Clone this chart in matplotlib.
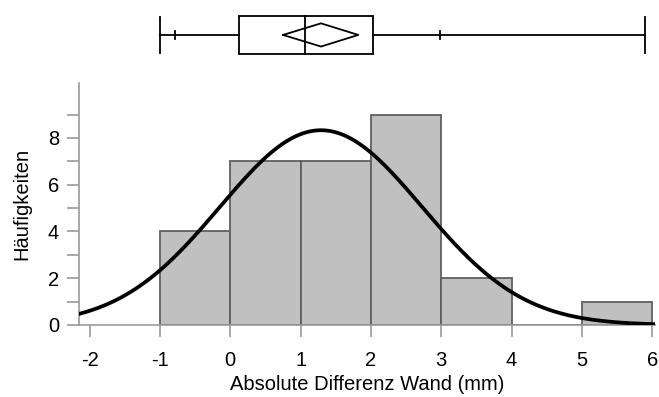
import numpy as np
import matplotlib.pyplot as plt

plt.rcParams['font.family'] = ['Liberation Sans', 'DejaVu Sans']
plt.rcParams['axes.unicode_minus'] = False

# Histogramm
bin_edges = [-1, 0, 1, 2, 3, 4, 5, 6]
counts = [4, 7, 7, 9, 2, 0, 1]
n_total = 30

# Normalverteilung
mean = 1.29
sd = 1.437

# Boxplot-Werte
q_min, q10, q1, median, q3, q90, q_max = -1.0, -0.78, 0.12, 1.06, 2.03, 2.98, 5.9
ci_low, ci_high = 0.75, 1.82

x_min, x_max = -2.15, 6.04
gray = "#9a9a9a"
fs = 14.5

fig = plt.figure(figsize=(6.59, 3.97), dpi=100)
ax = fig.add_axes([0.120, 0.1814, 0.874, 0.6096])
ax_box = fig.add_axes([0.120, 0.849, 0.874, 0.126])

# Balken
widths = np.diff(bin_edges)
ax.bar(bin_edges[:-1], counts, width=widths, align="edge",
       color="#c0c0c0", edgecolor="#606060", linewidth=1.3, zorder=2)

# Kurve
xs = np.linspace(x_min, x_max, 400)
ys = n_total * 1.0 / (sd * np.sqrt(2 * np.pi)) * np.exp(-(xs - mean) ** 2 / (2 * sd ** 2))
ax.plot(xs, ys, color="black", linewidth=2.7, zorder=3)

ax.set_xlim(x_min, x_max)
ax.set_ylim(0, 10.35)
ax.set_xticks(range(-2, 7))
ax.set_yticks([0, 2, 4, 6, 8])
ax.set_yticks([1, 3, 5, 7, 9], minor=True)
for s in ["top", "right"]:
    ax.spines[s].set_visible(False)
for s in ["left", "bottom"]:
    ax.spines[s].set_color(gray)
    ax.spines[s].set_linewidth(1.2)
ax.tick_params(axis="both", which="both", length=8.5, width=1.2, color=gray,
               labelsize=fs)
ax.tick_params(axis="x", pad=10)
ax.tick_params(axis="y", pad=6)
ax.set_xlabel("Absolute Differenz Wand (mm)", fontsize=fs, labelpad=4)
ax.set_ylabel("Häufigkeiten", fontsize=fs, labelpad=12)

# Boxplot oben
y0 = 0.0
lw = 1.3
ax_box.plot([q_min, q1], [y0, y0], color="black", linewidth=lw)
ax_box.plot([q3, q_max], [y0, y0], color="black", linewidth=lw)
ax_box.plot([q_min, q_min], [-0.9, 0.9], color="black", linewidth=lw)
ax_box.plot([q_max, q_max], [-0.9, 0.9], color="black", linewidth=lw)
ax_box.plot([q10, q10], [-0.22, 0.22], color="black", linewidth=lw)
ax_box.plot([q90, q90], [-0.22, 0.22], color="black", linewidth=lw)
ax_box.add_patch(plt.Rectangle((q1, -0.97), q3 - q1, 1.94, fill=False,
                               edgecolor="black", linewidth=lw))
ax_box.plot([median, median], [-0.97, 0.97], color="black", linewidth=lw)
ax_box.plot([ci_low, mean, ci_high, mean, ci_low],
            [0, 0.58, 0, -0.58, 0], color="black", linewidth=lw)
ax_box.set_xlim(x_min, x_max)
ax_box.set_ylim(-1.25, 1.25)
ax_box.axis("off")

plt.savefig("out.png", dpi=100)
